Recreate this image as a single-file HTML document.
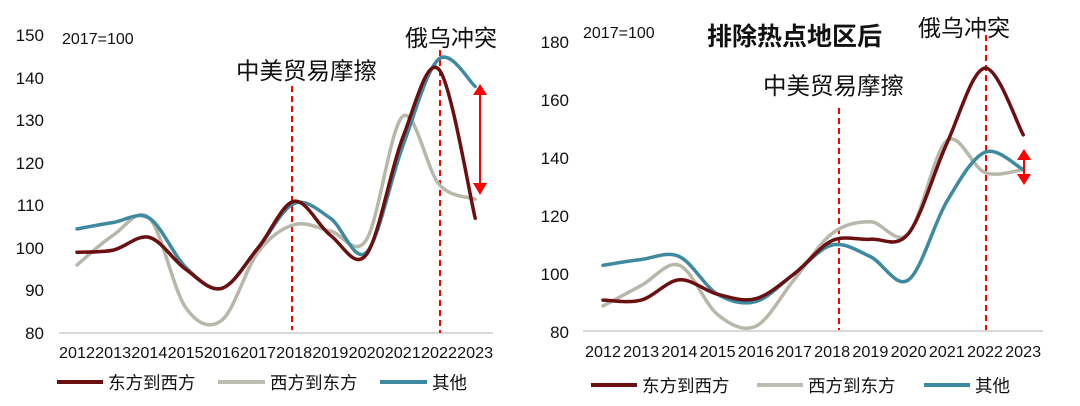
<!DOCTYPE html>
<html><head><meta charset="utf-8"><style>
html,body{margin:0;padding:0;background:#fff;}
svg{display:block;font-family:"Liberation Sans","Noto Sans CJK SC",sans-serif;}
</style></head><body>
<svg id="s" width="1080" height="406" viewBox="0 0 1080 406" xmlns="http://www.w3.org/2000/svg">
<g font-size="17" fill="#111" text-anchor="end">
<text x="44" y="41">150</text><text x="44" y="84">140</text><text x="44" y="126">130</text><text x="44" y="169">120</text><text x="44" y="211">110</text><text x="44" y="254">100</text><text x="44" y="296">90</text><text x="44" y="339">80</text>
<text x="569" y="48">180</text><text x="569" y="106">160</text><text x="569" y="164">140</text><text x="569" y="222">120</text><text x="569" y="280">100</text><text x="569" y="338">80</text>
</g>
<line x1="59" y1="333" x2="493" y2="333" stroke="#d9d9d9" stroke-width="2"/>
<line x1="583" y1="331" x2="1043" y2="331" stroke="#d9d9d9" stroke-width="2"/>
<g id="yl" font-size="16" fill="#111" text-anchor="middle"></g>
<g stroke="#ff0000" stroke-width="2" stroke-dasharray="6,4">
<line x1="292" y1="86" x2="292" y2="330"/><line x1="440" y1="50" x2="440" y2="333"/>
<line x1="839" y1="108" x2="839" y2="330"/><line x1="986" y1="35" x2="986" y2="330"/>
</g>
<g id="lines" fill="none" stroke-width="3.5" stroke-linecap="round"></g>
<g fill="#ff0000" stroke="#ff0000">
<line x1="480" y1="92" x2="480" y2="187" stroke-width="2"/>
<polygon points="473,95 487,95 480,84" stroke="none"/><polygon points="473,183 487,183 480,195" stroke="none"/>
<line x1="1024" y1="156" x2="1024" y2="178" stroke-width="2"/>
<polygon points="1017,160 1031,160 1024,149" stroke="none"/><polygon points="1017,174 1031,174 1024,185" stroke="none"/>
</g>
<g fill="#111">
<text x="62" y="44" font-size="16">2017=100</text>
<text x="583" y="38" font-size="16">2017=100</text>
<text x="236" y="79" font-size="23.5">中美贸易摩擦</text>
<text x="405" y="46" font-size="23">俄乌冲突</text>
<text x="763" y="94" font-size="23.5">中美贸易摩擦</text>
<text x="918" y="36" font-size="23">俄乌冲突</text>
<text x="707" y="45" font-size="25" font-weight="bold">排除热点地区后</text>
</g>
<g stroke-width="4">
<line x1="57" y1="382" x2="103" y2="382" stroke="#6b0f10"/>
<line x1="218" y1="382" x2="265" y2="382" stroke="#bdbcb0"/>
<line x1="380" y1="382" x2="427" y2="382" stroke="#3e8aa0"/>
<line x1="591" y1="385" x2="637" y2="385" stroke="#6b0f10"/>
<line x1="757" y1="385" x2="803" y2="385" stroke="#bdbcb0"/>
<line x1="924" y1="385" x2="970" y2="385" stroke="#3e8aa0"/>
</g>
<g font-size="17.5" fill="#111">
<text x="108" y="389">东方到西方</text><text x="270" y="389">西方到东方</text><text x="432" y="389">其他</text>
<text x="642" y="392">东方到西方</text><text x="808" y="392">西方到东方</text><text x="975" y="392">其他</text>
</g>
</svg>
<script>
var NS="http://www.w3.org/2000/svg";
function path(pts){var d="M"+pts[0][0]+","+pts[0][1];for(var i=0;i<pts.length-1;i++){var p0=pts[i-1]||pts[i],p1=pts[i],p2=pts[i+1],p3=pts[i+2]||p2;var t=6;d+=" C"+(p1[0]+(p2[0]-p0[0])/t)+","+(p1[1]+(p2[1]-p0[1])/t)+" "+(p2[0]-(p3[0]-p1[0])/t)+","+(p2[1]-(p3[1]-p1[1])/t)+" "+p2[0]+","+p2[1];}return d;}
var g=document.getElementById("lines"),yl=document.getElementById("yl");
function draw(x0,step,base,scale,y0,series){var order=[1,2,0];
order.forEach(function(k){var s=series[k];var pts=s.map(function(v,i){return[x0+i*step,y0-(v-base)*scale];});var p=document.createElementNS(NS,"path");p.setAttribute("d",path(pts));p.setAttribute("stroke",["#6b0f10","#b8b7aa","#3e8aa0"][k]);g.appendChild(p);});}
draw(77,36.2,80,4.25,333,[[99,99.5,102.5,95,90.5,100,111,103,98.5,126,142,107],[96,103,107,86,83,99,105.5,104,102,131,115,111.5],[104.5,106,107,95.5,90.5,100,110.5,107,99,124,144.5,138]]);
draw(603,38.2,80,2.9,332,[[91,91,98,93,91.5,100,111.5,112,114,145,171,148],[89,96,103,86,82,98,114,118,114,146,135,136],[103,105,106,93,90.5,100,110,106,98,125,142,136]]);
for(var i=0;i<12;i++){[[77,36.2,358,36],[603,38.2,357,36]].forEach(function(c){var t=document.createElementNS(NS,"text");t.setAttribute("x",c[0]+i*c[1]);t.setAttribute("y",c[2]);t.setAttribute("textLength",c[3]);t.setAttribute("lengthAdjust","spacingAndGlyphs");t.textContent=2012+i;yl.appendChild(t);});}
</script>
</body></html>
